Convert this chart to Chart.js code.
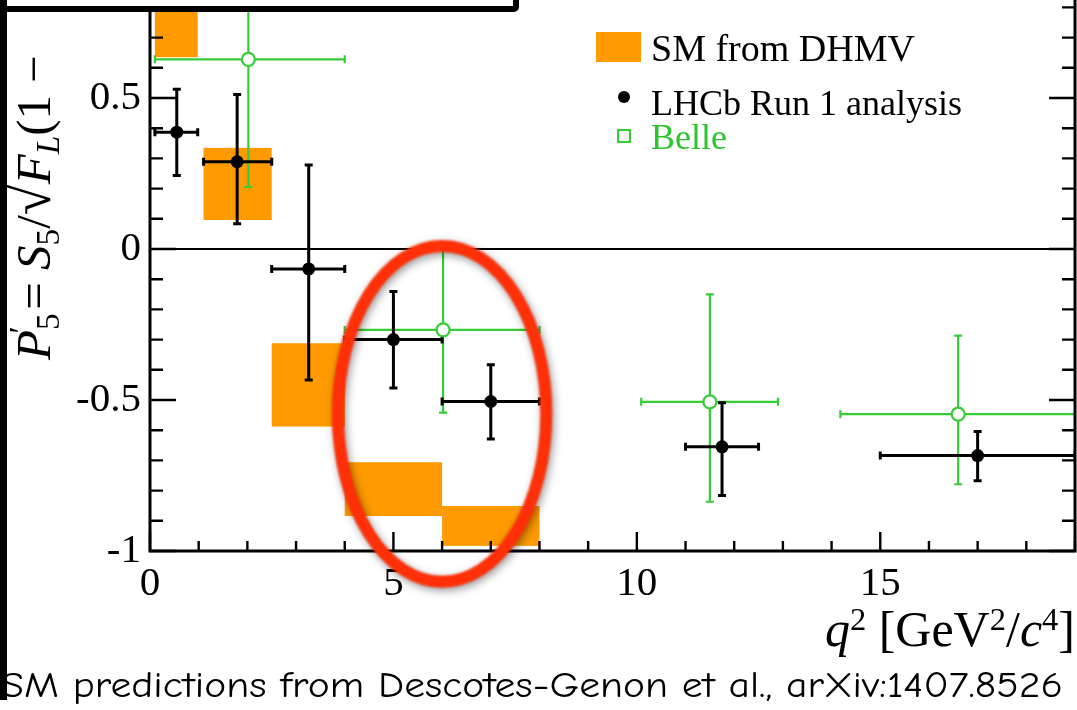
<!DOCTYPE html>
<html>
<head>
<meta charset="utf-8">
<script src="https://cdn.jsdelivr.net/npm/chart.js@4.4.1/dist/chart.umd.min.js"></script>
<style>
  html, body { margin: 0; padding: 0; background: #fff; }
  body { width: 1077px; height: 710px; position: relative; overflow: hidden; font-family: "Liberation Serif", "DejaVu Serif", serif; color: #000; }
  #wrap { position: absolute; left: 0; top: -60px; width: 1077px; height: 770px; }
  #topbox { position: absolute; left: -6px; top: -30px; width: 513px; height: 30px; border: 6px solid #000; border-radius: 5px; background: #fff; }
  #leftbar { position: absolute; left: 0; top: 0; width: 7px; height: 700px; background: #000; }
  #ytitle { position: absolute; left: 9px; top: 360px; transform-origin: 0 0; transform: rotate(-90deg); font-size: 49px; line-height: 49px; white-space: nowrap; }
  #ytitle sub { font-size: 0.68em; vertical-align: -0.28em; line-height: 0; }
  #ytitle .pr { font-size: 0.68em; vertical-align: 0.55em; line-height: 0; margin-left: -20px; margin-right: 4px; }
  #ytitle .rad { font-size: 1.15em; line-height: 0; }
  #ytitle .ol { border-top: 2px solid #000; padding-top: 1px; padding-right: 80px; }
  #xtitle { position: absolute; right: 2px; top: 604px; font-size: 50px; line-height: 50px; white-space: nowrap; }
  #xtitle sup { font-size: 0.65em; vertical-align: 0.5em; line-height: 0; }
  #caption { position: absolute; left: 1px; top: 665px; font-family: "Comic Sans MS", "Comic Neue", "DejaVu Sans", sans-serif; font-size: 37px; line-height: 40px; white-space: nowrap; transform-origin: 0 0; }
</style>
</head>
<body>
<div id="wrap"><canvas id="p5chart"></canvas></div>
<div id="ytitle"><i>P</i><sub>5</sub><span class="pr">′</span> = <i>S</i><sub>5</sub>/<span class="rad">√</span><span class="ol"><i>F</i><sub><i>L</i></sub>(1 −</span></div>
<div id="xtitle"><i>q</i><sup>2</sup> [GeV<sup>2</sup>/<i>c</i><sup>4</sup>]</div>
<div id="topbox"></div>
<div id="leftbar"></div>
<div id="caption">SM predictions from Descotes-Genon et al., arXiv:1407.8526</div>
<script>
// P5' vs q^2: LHCb Run 1, Belle, and the DHMV SM prediction bands

// LHCb Run 1 analysis
const lhcbQ = [0.55, 1.79, 3.26, 5.0, 7.0, 11.75, 17.0];
const lhcbBinLo = [0.1, 1.1, 2.5, 4.0, 6.0, 11.0, 15.0];
const lhcbBinHi = [0.98, 2.5, 4.0, 6.0, 8.0, 12.5, 19.0];
const lhcbP5 = [0.387, 0.289, -0.066, -0.300, -0.505, -0.655, -0.684];
const lhcbErrUp = [0.142, 0.223, 0.344, 0.159, 0.122, 0.146, 0.080];
const lhcbErrDn = [0.144, 0.205, 0.368, 0.160, 0.124, 0.161, 0.083];

// Belle
const belleQ = [2.02, 6.02, 11.5, 16.6];
const belleBinLo = [0.1, 4.0, 10.09, 14.18];
const belleBinHi = [4.0, 8.0, 12.9, 19.0];
const belleP5 = [0.628, -0.268, -0.506, -0.547];
const belleErrUp = [0.42, 0.272, 0.356, 0.260];
const belleErrDn = [0.422, 0.274, 0.331, 0.232];

// SM from DHMV (bin edges and band limits)
const smBinLo = [0.1, 1.1, 2.5, 4.0, 6.0];
const smBinHi = [0.98, 2.5, 4.0, 6.0, 8.0];
const smLow = [0.635, 0.096, -0.588, -0.884, -0.983];
const smHigh = [0.93, 0.335, -0.312, -0.706, -0.851];

// axis ranges and major tick labels
const xRange = [0, 19];
const yRange = [-1, 1];
const xLabels = [0, 5, 10, 15];
const yLabels = [-1, -0.5, 0, 0.5];

// hand-drawn ring around the 4-8 GeV^2 bins (q, P5', half-widths)
const ring = { q: 6.0, v: -0.546, rq: 2.14, rv: 0.556 };

const ORANGE = '#ff9a00';
const GREEN = '#36cc36';
const SERIF = '"Liberation Serif", "DejaVu Serif", serif';

const toPoints = (qs, vals) => qs.map((q, i) => ({ x: q, y: vals[i] }));

function drawErrorBars(ctx, x, y, qs, lo, hi, vals, up, dn, color, width) {
  ctx.strokeStyle = color;
  ctx.lineWidth = width;
  qs.forEach((q, i) => {
    const px = x.getPixelForValue(q);
    const py = y.getPixelForValue(vals[i]);
    const xl = x.getPixelForValue(lo[i]);
    const xr = x.getPixelForValue(hi[i]);
    const yt = y.getPixelForValue(vals[i] + up[i]);
    const yb = y.getPixelForValue(vals[i] - dn[i]);
    ctx.beginPath();
    ctx.moveTo(xl, py); ctx.lineTo(xr, py);
    ctx.moveTo(px, yt); ctx.lineTo(px, yb);
    // end caps
    ctx.moveTo(xl, py - 4); ctx.lineTo(xl, py + 4);
    ctx.moveTo(xr, py - 4); ctx.lineTo(xr, py + 4);
    ctx.moveTo(px - 4, yt); ctx.lineTo(px + 4, yt);
    ctx.moveTo(px - 4, yb); ctx.lineTo(px + 4, yb);
    ctx.stroke();
  });
}

const bandsAndBars = {
  id: 'bandsAndBars',
  beforeDatasetsDraw(chart) {
    const { ctx, chartArea: a, scales: { x, y } } = chart;
    ctx.save();
    ctx.beginPath();
    ctx.rect(a.left, a.top, a.right - a.left, a.bottom - a.top);
    ctx.clip();

    ctx.fillStyle = ORANGE;
    smBinLo.forEach((lo, i) => {
      const x0 = x.getPixelForValue(lo), x1 = x.getPixelForValue(smBinHi[i]);
      const y0 = y.getPixelForValue(smHigh[i]), y1 = y.getPixelForValue(smLow[i]);
      ctx.fillRect(x0, y0, x1 - x0, y1 - y0);
    });

    // zero line
    const y0 = y.getPixelForValue(0);
    ctx.strokeStyle = '#000';
    ctx.lineWidth = 2.2;
    ctx.beginPath();
    ctx.moveTo(a.left, y0); ctx.lineTo(a.right, y0);
    ctx.stroke();

    drawErrorBars(ctx, x, y, belleQ, belleBinLo, belleBinHi, belleP5, belleErrUp, belleErrDn, GREEN, 2.2);
    drawErrorBars(ctx, x, y, lhcbQ, lhcbBinLo, lhcbBinHi, lhcbP5, lhcbErrUp, lhcbErrDn, '#000', 3);
    ctx.restore();
  }
};

// frame with inward ticks, ROOT style
const frame = {
  id: 'frame',
  afterDatasetsDraw(chart) {
    const { ctx, chartArea: a, scales: { x, y } } = chart;
    ctx.save();
    ctx.strokeStyle = '#000';
    ctx.lineWidth = 2.4;
    ctx.beginPath();
    x.ticks.forEach(t => {
      const px = x.getPixelForValue(t.value);
      const len = t.value % 5 === 0 ? 19 : 10;
      ctx.moveTo(px, a.bottom); ctx.lineTo(px, a.bottom - len);
    });
    y.ticks.forEach(t => {
      const py = y.getPixelForValue(t.value);
      const major = Math.abs(t.value * 2 - Math.round(t.value * 2)) < 1e-6;
      const len = major ? 26 : 13;
      ctx.moveTo(a.left, py); ctx.lineTo(a.left + len, py);
      ctx.moveTo(a.right, py); ctx.lineTo(a.right - len, py);
    });
    ctx.stroke();
    ctx.lineWidth = 3;
    ctx.strokeRect(a.left, a.top, a.right - a.left, a.bottom - a.top);
    ctx.restore();
  }
};

const legendAndRing = {
  id: 'legendAndRing',
  afterDraw(chart) {
    const { ctx, scales: { x, y } } = chart;
    ctx.save();
    ctx.fillStyle = ORANGE;
    ctx.fillRect(596, 92, 45, 30);
    ctx.fillStyle = '#000';
    ctx.font = '38px ' + SERIF;
    ctx.textBaseline = 'alphabetic';
    ctx.fillText('SM from DHMV', 651, 121);
    ctx.beginPath();
    ctx.arc(624, 157, 6, 0, Math.PI * 2);
    ctx.fill();
    ctx.font = '36px ' + SERIF;
    ctx.fillText('LHCb Run 1 analysis', 651, 175);
    ctx.strokeStyle = GREEN;
    ctx.lineWidth = 2;
    ctx.strokeRect(618, 190, 12, 12);
    ctx.fillStyle = '#2bc42b';
    ctx.fillText('Belle', 651, 209);

    const cx = x.getPixelForValue(ring.q), cy = y.getPixelForValue(ring.v);
    const rx = x.getPixelForValue(ring.q + ring.rq) - cx;
    const ry = cy - y.getPixelForValue(ring.v + ring.rv);
    ctx.shadowColor = 'rgba(0,0,0,0.4)';
    ctx.shadowBlur = 9;
    ctx.shadowOffsetX = 2;
    ctx.shadowOffsetY = 3;
    ctx.filter = 'blur(0.8px)';
    ctx.strokeStyle = '#ff3008';
    ctx.lineWidth = 12;
    ctx.beginPath();
    ctx.ellipse(cx, cy, rx, ry, 0, 0, Math.PI * 2);
    ctx.stroke();
    ctx.restore();
  }
};

const tickFont = { family: SERIF, size: 41 };

new Chart(document.getElementById('p5chart'), {
  type: 'scatter',
  data: {
    datasets: [
      { label: 'Belle', data: toPoints(belleQ, belleP5), pointRadius: 6.5, pointBackgroundColor: '#fff', pointBorderColor: GREEN, pointBorderWidth: 2.2 },
      { label: 'LHCb Run 1 analysis', data: toPoints(lhcbQ, lhcbP5), pointRadius: 6.5, pointBackgroundColor: '#000', pointBorderColor: '#000', pointBorderWidth: 0 },
    ]
  },
  options: {
    responsive: true, maintainAspectRatio: false, animation: false,
    layout: { padding: { left: 0, right: 2, top: 7, bottom: 0 }, autoPadding: false },
    plugins: { legend: { display: false }, tooltip: { enabled: false } },
    scales: {
      x: {
        type: 'linear', min: xRange[0], max: xRange[1],
        grid: { display: false }, border: { display: false },
        ticks: { stepSize: 1, autoSkip: false, maxRotation: 0, padding: 1, color: '#000', font: tickFont,
          callback: v => (xLabels.includes(v) ? String(v) : '') },
        afterFit: s => { s.height = 159; s.paddingLeft = 0; s.paddingRight = 0; }
      },
      y: {
        type: 'linear', min: yRange[0], max: yRange[1],
        grid: { display: false }, border: { display: false },
        ticks: { stepSize: 0.1, autoSkip: false, padding: 1, color: '#000', font: tickFont,
          callback: v => {
            const r = Math.round(v * 10) / 10;
            return yLabels.includes(r) ? String(r) : '';
          } },
        afterFit: s => { s.width = 150; s.paddingTop = 0; s.paddingBottom = 0; }
      }
    }
  },
  plugins: [bandsAndBars, frame, legendAndRing]
});

// stretch the footnote across the slide width
const cap = document.getElementById('caption');
cap.style.transform = 'scaleX(' + (1062 / cap.getBoundingClientRect().width) + ')';
</script>
</body>
</html>
